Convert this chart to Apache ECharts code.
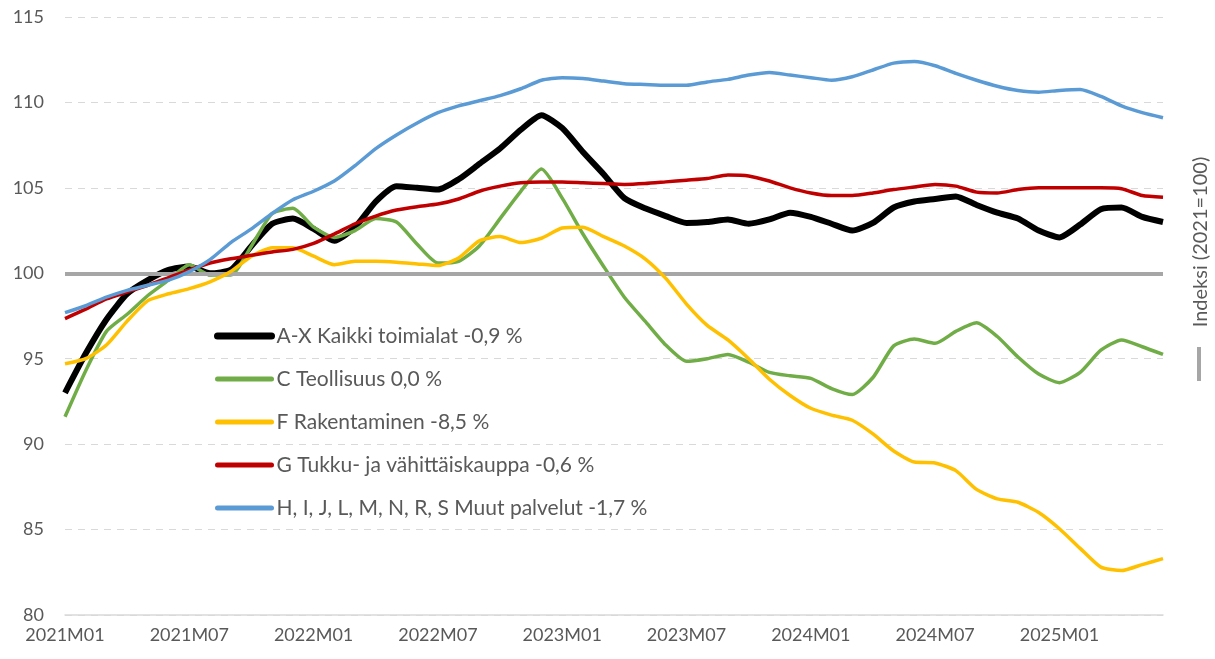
<!DOCTYPE html>
<html>
<head>
<meta charset="utf-8">
<script src="https://cdn.jsdelivr.net/npm/echarts@6/dist/echarts.min.js"></script>
<style>
  html, body { margin: 0; padding: 0; background: #fff; }
  #chart { width: 1215px; height: 659px; }
</style>
</head>
<body>
<div id="chart"></div>
<script>
// months 2021M01 .. 2025M06
var months = []
for (var y = 2021; y <= 2025; y++) {
    for (var m = 1; m <= 12; m++) {
        if (y === 2025 && m > 6) break
        months.push(y + "M" + (m < 10 ? "0" + m : m))
    }
}

var seriesNames = [
    "A-X Kaikki toimialat -0,9 %",
    "C Teollisuus 0,0 %",
    "F Rakentaminen -8,5 %",
    "G Tukku- ja vähittäiskauppa -0,6 %",
    "H, I, J, L, M, N, R, S Muut palvelut -1,7 %"
]

var kaikki = [93.0, 95.3, 97.3, 98.8, 99.6, 100.2, 100.4, 100.0, 100.2, 101.6,
    102.9, 103.2, 102.6, 101.9, 102.7, 104.2, 105.1, 105.0, 104.9, 105.5,
    106.4, 107.3, 108.4, 109.25, 108.5, 107.1, 105.8, 104.4, 103.8, 103.35,
    102.95, 103.0, 103.15, 102.9, 103.15, 103.55, 103.3, 102.9, 102.5, 102.95,
    103.85, 104.2, 104.35, 104.5, 104.0, 103.55, 103.2, 102.5, 102.1, 102.85,
    103.75, 103.85, 103.3, 103.0]

var teollisuus = [91.6, 94.3, 96.6, 97.6, 98.7, 99.6, 100.5, 99.9, 99.9, 101.6,
    103.5, 103.8, 102.7, 102.1, 102.5, 103.2, 103.0, 101.7, 100.6, 100.7,
    101.6, 103.2, 104.8, 106.1, 104.4, 102.3, 100.4, 98.6, 97.2, 95.8,
    94.85, 95.0, 95.25, 94.8, 94.2, 94.0, 93.85, 93.25, 92.9, 93.9,
    95.75, 96.15, 95.9, 96.6, 97.1, 96.3, 95.1, 94.1, 93.6, 94.2,
    95.5, 96.1, 95.7, 95.25]

var rakentaminen = [94.7, 95.0, 95.8, 97.2, 98.4, 98.8, 99.1, 99.5, 100.1, 101.0,
    101.5, 101.5, 101.0, 100.5, 100.7, 100.7, 100.65, 100.55, 100.45, 100.9,
    101.9, 102.15, 101.8, 102.05, 102.65, 102.7, 102.15, 101.6, 100.85, 99.7,
    98.2, 96.95, 96.1, 95.0, 93.8, 92.85, 92.1, 91.7, 91.4, 90.6,
    89.6, 88.95, 88.9, 88.45, 87.35, 86.8, 86.6, 86.0, 85.05, 83.9,
    82.8, 82.6, 82.95, 83.3]

var kauppa = [97.35, 97.9, 98.5, 98.9, 99.3, 99.75, 100.2, 100.6, 100.85, 101.05,
    101.25, 101.4, 101.75, 102.3, 102.9, 103.35, 103.7, 103.9, 104.05, 104.35,
    104.8, 105.1, 105.3, 105.35, 105.35, 105.3, 105.25, 105.2, 105.25, 105.35,
    105.45, 105.55, 105.75, 105.7, 105.4, 105.0, 104.7, 104.55, 104.55, 104.7,
    104.9, 105.05, 105.2, 105.1, 104.75, 104.7, 104.9, 105.0, 105.0, 105.0,
    105.0, 104.95, 104.55, 104.45]

var palvelut = [97.7, 98.1, 98.6, 99.0, 99.3, 99.6, 100.1, 100.8, 101.8, 102.6,
    103.5, 104.3, 104.8, 105.4, 106.3, 107.3, 108.1, 108.8, 109.4, 109.8,
    110.1, 110.4, 110.8, 111.3, 111.45, 111.4, 111.25, 111.1, 111.05, 111.0,
    111.0, 111.2, 111.35, 111.6, 111.75, 111.6, 111.45, 111.3, 111.5, 111.9,
    112.3, 112.4, 112.15, 111.7, 111.3, 110.95, 110.7, 110.6, 110.7, 110.75,
    110.35, 109.8, 109.4, 109.1]

var seriesData = [kaikki, teollisuus, rakentaminen, kauppa, palvelut]
var seriesColors = ["#000000", "#70ad47", "#ffc000", "#c00000", "#5b9bd5"]
var seriesWidths = [6, 3.5, 3.5, 3.5, 3.5]
var baseIndex = 100

var textColor = "#595959"
var fontFam = "Lato, 'Open Sans', sans-serif"

var chart = echarts.init(document.getElementById("chart"))

var series = seriesNames.map(function (name, i) {
    return {
        name: name,
        type: "line",
        data: seriesData[i],
        symbol: "none",
        smooth: 0.2,
        color: seriesColors[i],
        lineStyle: { width: seriesWidths[i], color: seriesColors[i] },
        z: 3 + i
    }
})
series.unshift({
    name: "Indeksi (2021=100)",
    type: "line",
    data: [],
    z: 2,
    markLine: {
        silent: true,
        symbol: "none",
        label: { show: false },
        lineStyle: { color: "#a6a6a6", width: 4, type: "solid" },
        data: [{ yAxis: baseIndex }]
    }
})

var legendData = seriesNames.map(function (name, i) {
    return {
        name: name,
        lineStyle: { width: i === 0 ? 7 : 5, cap: "round" }
    }
})

var option = {
    animation: false,
    grid: { left: 65, right: 52, top: 17, bottom: 44 },
    xAxis: {
        type: "category",
        data: months,
        boundaryGap: false,
        axisLine: { lineStyle: { color: "#d9d9d9", width: 1.5 } },
        axisTick: { show: false },
        axisLabel: {
            interval: 5,
            color: textColor,
            fontSize: 18,
            fontFamily: fontFam,
            margin: 11
        }
    },
    yAxis: {
        type: "value",
        min: 80,
        max: 115,
        interval: 5,
        axisLine: { show: false },
        axisTick: { show: false },
        axisLabel: { color: textColor, fontSize: 18, fontFamily: fontFam, margin: 21 },
        splitLine: { lineStyle: { color: "#d9d9d9", type: [7, 6], width: 1.2 } }
    },
    legend: {
        data: legendData,
        orient: "vertical",
        left: 209,
        top: 320,
        itemWidth: 54,
        itemHeight: 14,
        itemGap: 21,
        itemStyle: { opacity: 0 },
        textStyle: { color: textColor, fontSize: 21, fontFamily: fontFam, lineHeight: 22 }
    },
    graphic: [
        {
            type: "text",
            x: 1201,
            y: 242,
            rotation: Math.PI / 2,
            style: {
                text: "Indeksi (2021=100)",
                fill: textColor,
                fontSize: 20,
                fontFamily: fontFam,
                align: "center",
                verticalAlign: "middle"
            }
        },
        {
            type: "line",
            shape: { x1: 1199, y1: 347, x2: 1199, y2: 381 },
            style: { stroke: "#a6a6a6", lineWidth: 4 }
        }
    ],
    series: series
}

chart.setOption(option)
</script>
</body>
</html>
